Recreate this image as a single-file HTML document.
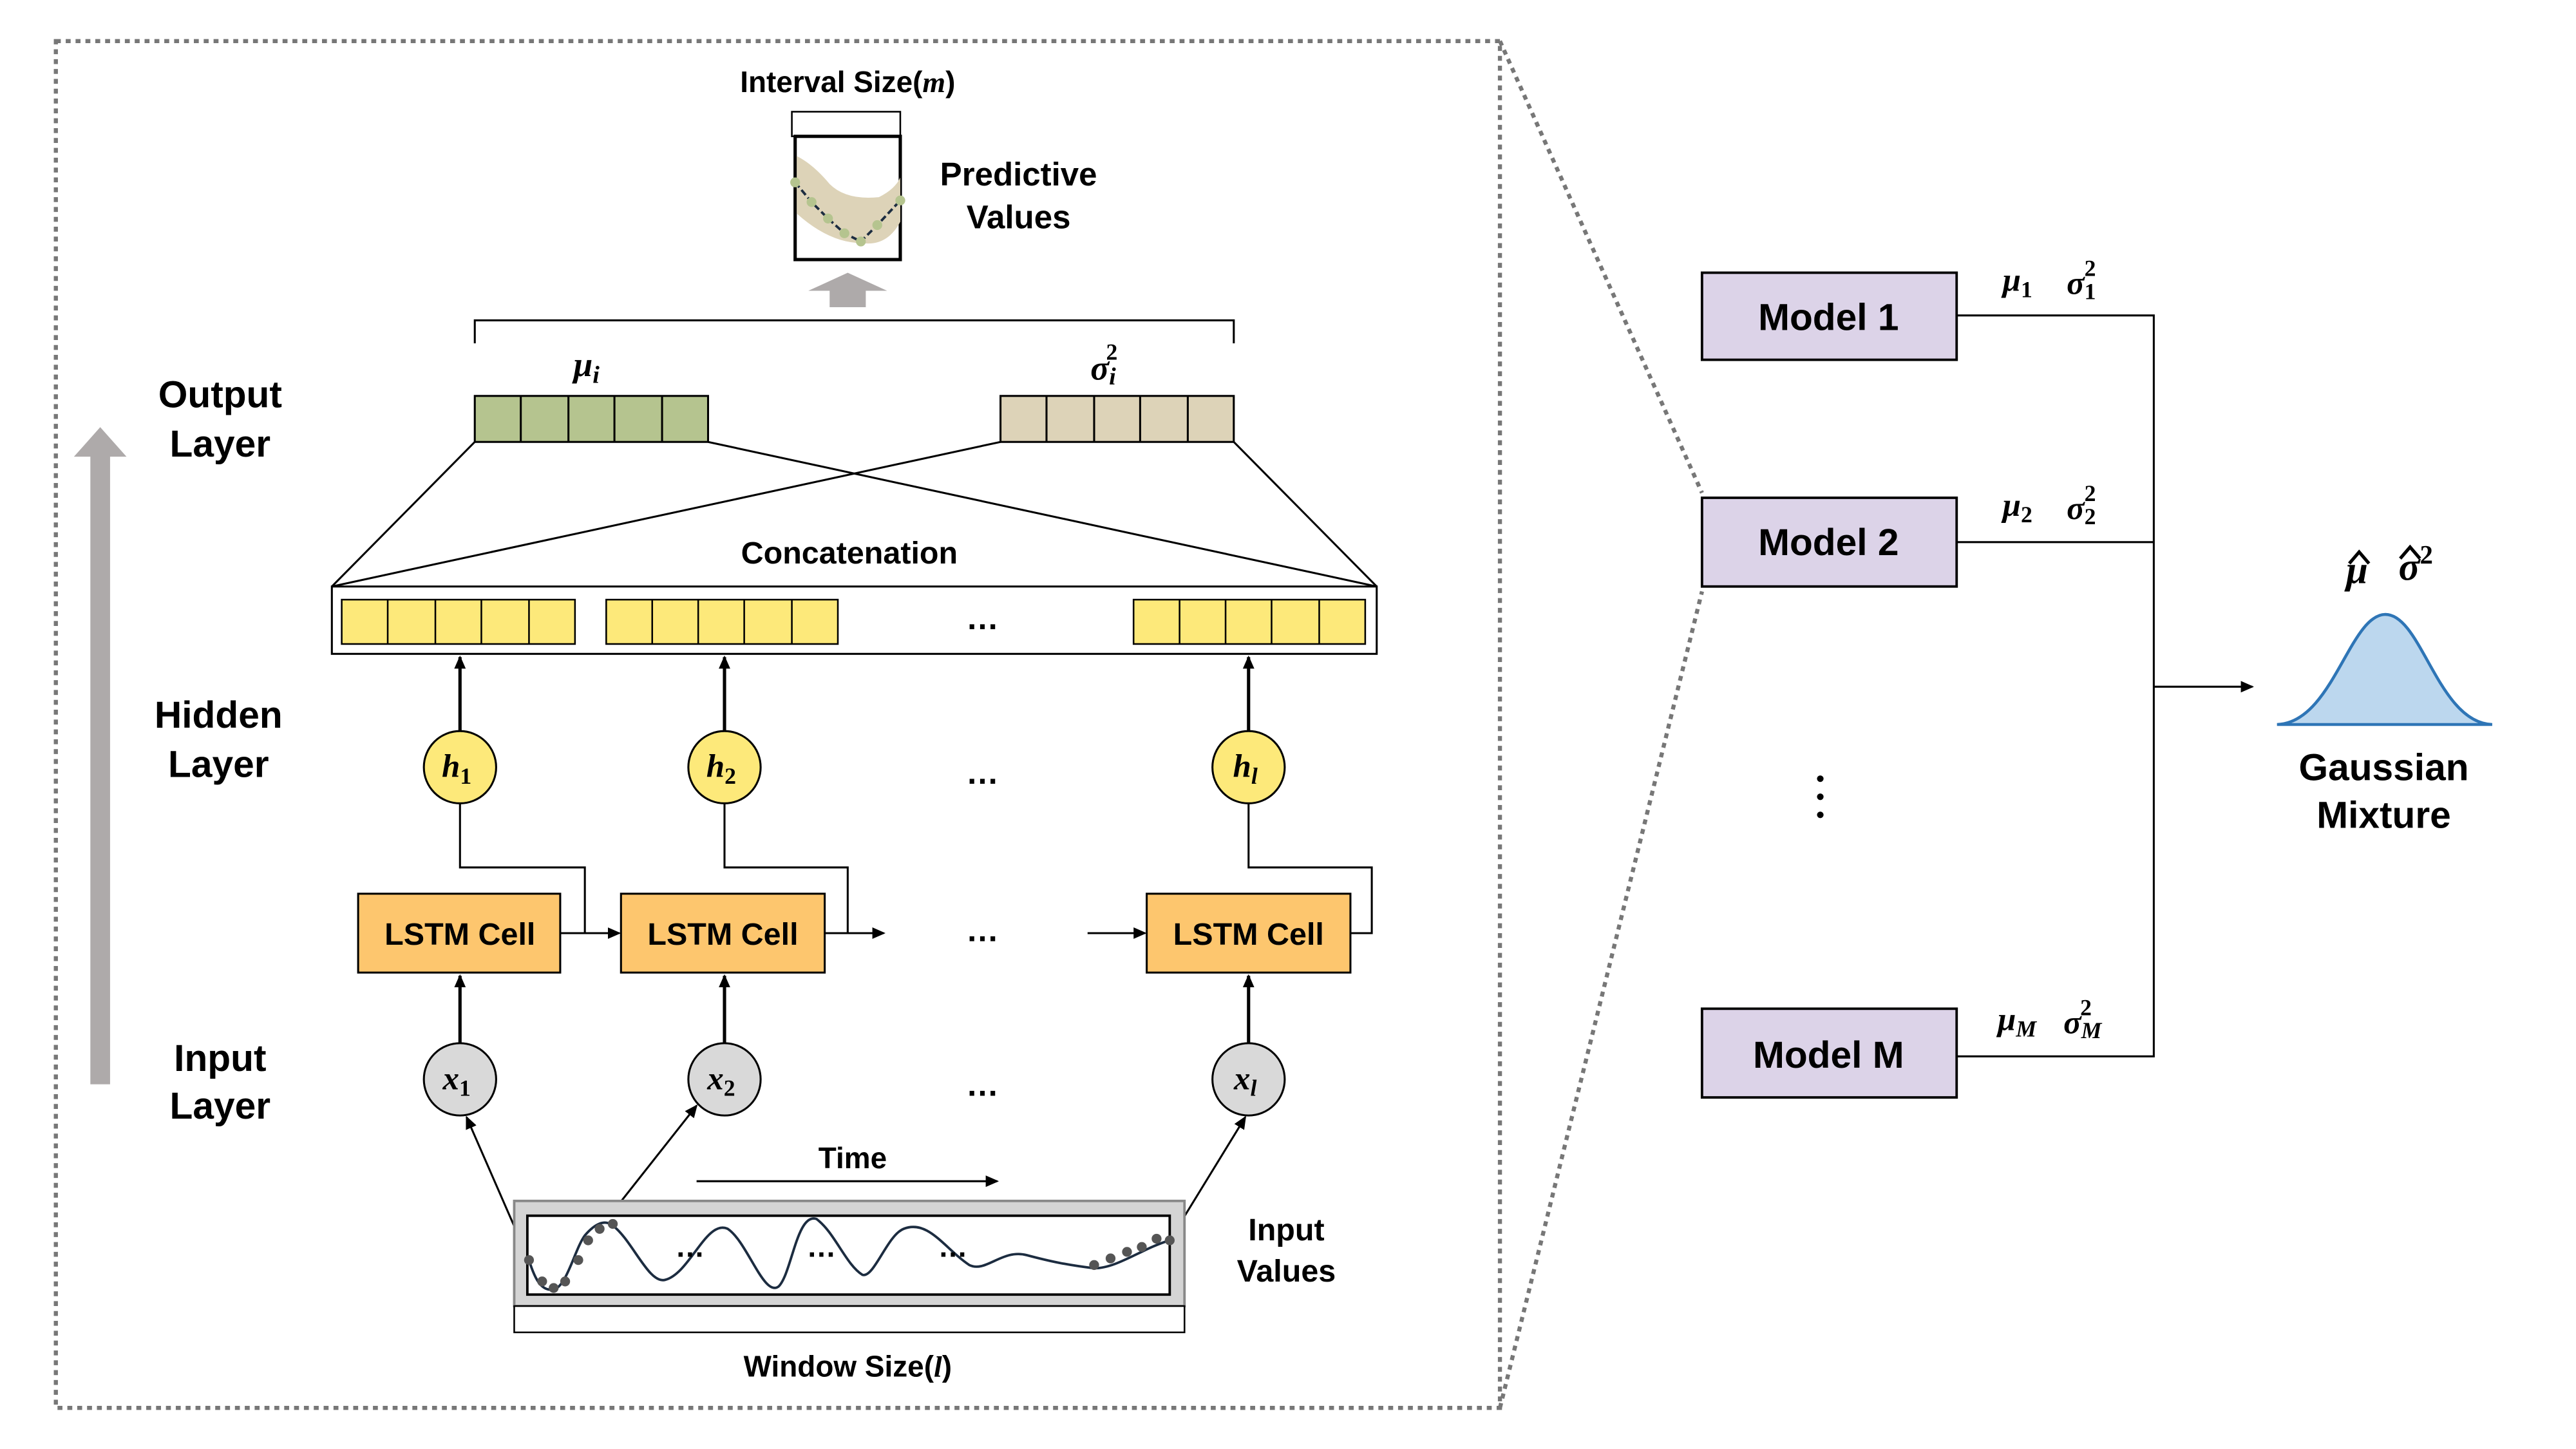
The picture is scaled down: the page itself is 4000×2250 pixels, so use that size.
<!DOCTYPE html>
<html><head><meta charset="utf-8"><style>html,body{margin:0;padding:0;background:#fff}svg{display:block}</style></head><body>
<svg width="4000" height="2250" viewBox="0 0 1568 882" xmlns="http://www.w3.org/2000/svg" font-family="Liberation Sans, sans-serif" font-weight="bold">
<defs>
<marker id="ah" markerWidth="8" markerHeight="8" refX="7" refY="4" orient="auto" markerUnits="userSpaceOnUse"><path d="M0,0.5 L8,4 L0,7.5z" fill="#000"/></marker>
</defs>
<g stroke="#777" stroke-width="2.5" stroke-dasharray="3,3" fill="none">
<rect x="34" y="25" width="879" height="832"/>
<line x1="913" y1="25" x2="1036" y2="300"/>
<line x1="913" y1="857" x2="1036" y2="360"/>
</g>
<rect x="55" y="276" width="12" height="384" fill="#aeaaaa"/>
<path d="M45,278 L61,260 L77,278z" fill="#aeaaaa"/>
<g font-size="23" text-anchor="middle" fill="#000">
<text x="134" y="248">Output</text><text x="134" y="278">Layer</text>
<text x="133" y="443">Hidden</text><text x="133" y="473">Layer</text>
<text x="134" y="652">Input</text><text x="134" y="681">Layer</text>
</g>
<text x="516" y="56" font-size="18" text-anchor="middle">Interval Size(<tspan font-family="Liberation Serif, serif" font-style="italic">m</tspan>)</text>
<rect x="482" y="68" width="66" height="15" fill="none" stroke="#000" stroke-width="1"/>
<rect x="484" y="83" width="64" height="75" fill="#fff" stroke="#000" stroke-width="2"/>
<path d="M485,95 Q495,100 505,112 Q515,122 535,120 Q545,115 548,108 L548,135 Q540,150 525,148 Q505,148 485,130z" fill="#ddd3b8"/>
<polyline points="484,111 494,123 504,133 514,142 524,147 534,137 548,122" fill="none" stroke="#1c2c40" stroke-width="1.5" stroke-dasharray="4,2"/>
<g fill="#b5c48f"><circle cx="484" cy="111" r="3"/><circle cx="494" cy="123" r="3"/><circle cx="504" cy="133" r="3"/><circle cx="514" cy="142" r="3"/><circle cx="524" cy="147" r="3"/><circle cx="534" cy="137" r="3"/><circle cx="548" cy="122" r="3"/></g>
<text x="620" y="113" font-size="20" text-anchor="middle">Predictive</text>
<text x="620" y="139" font-size="20" text-anchor="middle">Values</text>
<path d="M505,177 L505,187 L527,187 L527,177 L540,177 L516,166 L492,177z" fill="#aeaaaa"/>
<path d="M289,209 V195 H751 V209" fill="none" stroke="#000" stroke-width="1.2"/>
<text x="357" y="229" font-size="21" font-family="Liberation Serif, serif" font-style="italic" text-anchor="middle">μ<tspan font-size="15" dy="4">i</tspan></text>
<text x="672" y="231" font-size="21" font-family="Liberation Serif, serif" font-style="italic" text-anchor="middle">σ<tspan font-size="15" dy="3">i</tspan><tspan font-size="14" dx="-6" dy="-15" font-style="normal">2</tspan></text>
<g stroke="#000" stroke-width="1.2">
<rect x="289" y="241" width="142" height="28" fill="#b5c48f"/>
<line x1="317" y1="241" x2="317" y2="269"/><line x1="346" y1="241" x2="346" y2="269"/><line x1="374" y1="241" x2="374" y2="269"/><line x1="403" y1="241" x2="403" y2="269"/>
<rect x="609" y="241" width="142" height="28" fill="#ddd3b8"/>
<line x1="637" y1="241" x2="637" y2="269"/><line x1="666" y1="241" x2="666" y2="269"/><line x1="694" y1="241" x2="694" y2="269"/><line x1="723" y1="241" x2="723" y2="269"/>
<line x1="289" y1="269" x2="202" y2="357"/><line x1="431" y1="269" x2="838" y2="357"/>
<line x1="609" y1="269" x2="202" y2="357"/><line x1="751" y1="269" x2="838" y2="357"/>
</g>
<text x="517" y="343" font-size="19" text-anchor="middle">Concatenation</text>
<rect x="202" y="357" width="636" height="41" fill="#fff" stroke="#000" stroke-width="1.2"/>
<g stroke="#000" stroke-width="1" fill="#fde97a">
<rect x="208" y="365" width="142" height="27"/><line x1="236" y1="365" x2="236" y2="392"/><line x1="265" y1="365" x2="265" y2="392"/><line x1="293" y1="365" x2="293" y2="392"/><line x1="322" y1="365" x2="322" y2="392"/>
<rect x="369" y="365" width="141" height="27"/><line x1="397" y1="365" x2="397" y2="392"/><line x1="425" y1="365" x2="425" y2="392"/><line x1="453" y1="365" x2="453" y2="392"/><line x1="482" y1="365" x2="482" y2="392"/>
<rect x="690" y="365" width="141" height="27"/><line x1="718" y1="365" x2="718" y2="392"/><line x1="746" y1="365" x2="746" y2="392"/><line x1="774" y1="365" x2="774" y2="392"/><line x1="803" y1="365" x2="803" y2="392"/>
</g>
<g font-size="20" text-anchor="middle"><text x="598" y="383">…</text><text x="598" y="477">…</text><text x="598" y="573">…</text><text x="598" y="667">…</text></g>
<g stroke="#000" stroke-width="2" marker-end="url(#ah)">
<line x1="280" y1="445" x2="280" y2="400"/><line x1="441" y1="445" x2="441" y2="400"/><line x1="760" y1="445" x2="760" y2="400"/>
<line x1="280" y1="635" x2="280" y2="594"/><line x1="441" y1="635" x2="441" y2="594"/><line x1="760" y1="635" x2="760" y2="594"/>
</g>
<g stroke="#000" stroke-width="1.2" fill="none">
<path d="M280,489 V528 H356 V568"/><path d="M441,489 V528 H516 V568"/><path d="M760,489 V528 H835 V568 H822"/>
<line x1="341" y1="568" x2="377" y2="568" marker-end="url(#ah)"/>
<line x1="502" y1="568" x2="538" y2="568" marker-end="url(#ah)"/>
<line x1="662" y1="568" x2="697" y2="568" marker-end="url(#ah)"/>
<line x1="322" y1="767" x2="284" y2="680" marker-end="url(#ah)"/>
<line x1="338" y1="782" x2="424" y2="673" marker-end="url(#ah)"/>
<line x1="712" y1="755" x2="758" y2="680" marker-end="url(#ah)"/>
<line x1="424" y1="719" x2="607" y2="719" marker-end="url(#ah)"/>
</g>
<g stroke="#000" stroke-width="1.2" fill="#fde97a">
<circle cx="280" cy="467" r="22"/><circle cx="441" cy="467" r="22"/><circle cx="760" cy="467" r="22"/>
</g>
<g font-family="Liberation Serif, serif" font-style="italic" font-size="20" text-anchor="middle">
<text x="278" y="473">h<tspan font-size="14" dy="4" font-style="normal">1</tspan></text>
<text x="439" y="473">h<tspan font-size="14" dy="4" font-style="normal">2</tspan></text>
<text x="758" y="473">h<tspan font-size="14" dy="4">l</tspan></text>
</g>
<g stroke="#000" stroke-width="1.2" fill="#fdc66e">
<rect x="218" y="544" width="123" height="48"/><rect x="378" y="544" width="124" height="48"/><rect x="698" y="544" width="124" height="48"/>
</g>
<g font-size="19" text-anchor="middle"><text x="280" y="575">LSTM Cell</text><text x="440" y="575">LSTM Cell</text><text x="760" y="575">LSTM Cell</text></g>
<g stroke="#000" stroke-width="1.2" fill="#d9d9d9">
<circle cx="280" cy="657" r="22"/><circle cx="441" cy="657" r="22"/><circle cx="760" cy="657" r="22"/>
</g>
<g font-family="Liberation Serif, serif" font-style="italic" font-size="20" text-anchor="middle">
<text x="278" y="663">x<tspan font-size="14" dy="4" font-style="normal">1</tspan></text>
<text x="439" y="663">x<tspan font-size="14" dy="4" font-style="normal">2</tspan></text>
<text x="758" y="663">x<tspan font-size="14" dy="4">l</tspan></text>
</g>
<text x="519" y="711" font-size="18" text-anchor="middle">Time</text>
<rect x="313" y="731" width="408" height="64" fill="#d4d4d4" stroke="#888" stroke-width="1.5"/>
<rect x="321" y="740" width="391" height="48" fill="#fff" stroke="#000" stroke-width="1.5"/>
<rect x="313" y="795" width="408" height="16" fill="#fff" stroke="#000" stroke-width="1"/>
<path d="M322,767 C326,780 330,786 337,785 C345,783 350,760 356,752 C362,745 368,742 373,746 C385,755 395,782 405,779 C420,775 430,742 443,748 C455,756 465,790 474,783 C482,775 485,738 497,742 C508,750 515,770 525,776 C532,778 540,752 550,748 C565,742 575,760 590,770 C600,775 610,760 625,764 C640,768 650,770 666,772 C680,772 695,760 712,755" fill="none" stroke="#1c2c40" stroke-width="1.5"/>
<g fill="#555"><circle cx="322" cy="767" r="3"/><circle cx="330" cy="780" r="3"/><circle cx="337" cy="784" r="3"/><circle cx="344" cy="780" r="3"/><circle cx="352" cy="767" r="3"/><circle cx="358" cy="755" r="3"/><circle cx="365" cy="748" r="3"/><circle cx="373" cy="745" r="3"/><circle cx="666" cy="770" r="3"/><circle cx="676" cy="766" r="3"/><circle cx="686" cy="762" r="3"/><circle cx="695" cy="759" r="3"/><circle cx="704" cy="754" r="3"/><circle cx="712" cy="755" r="3"/></g>
<g font-size="18" text-anchor="middle"><text x="420" y="765">…</text><text x="500" y="765">…</text><text x="580" y="765">…</text></g>
<text x="783" y="755" font-size="19" text-anchor="middle">Input</text>
<text x="783" y="780" font-size="19" text-anchor="middle">Values</text>
<text x="516" y="838" font-size="18" text-anchor="middle">Window Size(<tspan font-family="Liberation Serif, serif" font-style="italic">l</tspan>)</text>
<g stroke="#000" stroke-width="1.5" fill="#dcd3e8">
<rect x="1036" y="166" width="155" height="53"/><rect x="1036" y="303" width="155" height="54"/><rect x="1036" y="614" width="155" height="54"/>
</g>
<g font-size="23" text-anchor="middle"><text x="1113" y="201">Model 1</text><text x="1113" y="338">Model 2</text><text x="1113" y="650">Model M</text></g>
<g stroke="#000" stroke-width="1.2" fill="none">
<path d="M1191,192 H1311 V643 H1191"/><line x1="1191" y1="330" x2="1311" y2="330"/>
<line x1="1311" y1="418" x2="1371" y2="418" marker-end="url(#ah)"/>
</g>
<g font-family="Liberation Serif, serif" font-style="italic" font-size="20">
<text x="1219" y="177">μ<tspan font-size="14" dy="4" font-style="normal">1</tspan></text>
<text x="1258" y="179">σ<tspan font-size="14" dy="3" font-style="normal">1</tspan><tspan font-size="14" dx="-7" dy="-14" font-style="normal">2</tspan></text>
<text x="1219" y="314">μ<tspan font-size="14" dy="4" font-style="normal">2</tspan></text>
<text x="1258" y="316">σ<tspan font-size="14" dy="3" font-style="normal">2</tspan><tspan font-size="14" dx="-7" dy="-14" font-style="normal">2</tspan></text>
<text x="1216" y="627">μ<tspan font-size="14" dy="4">M</tspan></text>
<text x="1256" y="629">σ<tspan font-size="14" dy="3">M</tspan><tspan font-size="14" dx="-13" dy="-14" font-style="normal">2</tspan></text>
<text x="1428" y="355" font-size="24">μ</text>
<text x="1460" y="353" font-size="24">σ<tspan font-size="16" dy="-10" font-style="normal">2</tspan></text>
</g>
<path d="M1430,343 L1436,336 L1442,343 M1461,340 L1467,333 L1473,340" fill="none" stroke="#000" stroke-width="2"/>
<g fill="#000"><circle cx="1108" cy="474" r="2"/><circle cx="1108" cy="485" r="2"/><circle cx="1108" cy="496" r="2"/></g>
<path d="M1386,441 C1420,440 1430,374 1452,374 C1474,374 1484,440 1517,441z" fill="#bcd7ee" stroke="#2e75b6" stroke-width="1.8"/>
<text x="1451" y="475" font-size="23" text-anchor="middle">Gaussian</text>
<text x="1451" y="504" font-size="23" text-anchor="middle">Mixture</text>
</svg>
</body></html>
